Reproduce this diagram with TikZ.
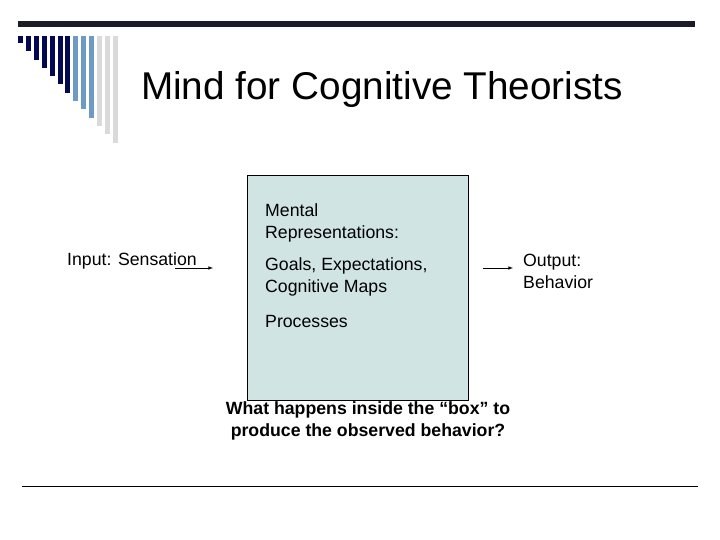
\documentclass[tikz,border=0pt]{standalone}
\usepackage{fontspec}
\setmainfont{Liberation Sans}
\definecolor{bardark}{RGB}{4,8,82}
\definecolor{barmid}{RGB}{110,155,195}
\definecolor{barlight}{RGB}{218,218,218}
\definecolor{rulecol}{RGB}{28,28,40}
\definecolor{boxfill}{RGB}{208,228,228}
\tikzset{
    txt/.style = {font=\fontsize{17.7}{22}\selectfont, align=left, inner sep=0pt},
    flow/.style = {-latex, semithick}
}
\begin{document}
\begin{tikzpicture}[x=1pt, y=-1pt]
    \useasboundingbox (0,0) rectangle (720,540);
    % header rule and bars
    \fill[rulecol] (18,21.5) rectangle (695,27);
    \foreach \i in {0,...,12} {
        \ifnum\i<7 \def\bc{bardark}\else\ifnum\i<10 \def\bc{barmid}\else\def\bc{barlight}\fi\fi
        \fill[\bc] ({18+7.9*\i},36) rectangle ({23+7.9*\i},{43+8.3*\i});
    }
    \node[font=\fontsize{38.7}{42}\selectfont] (title) at (382,89) {Mind for Cognitive Theorists};

    \draw[fill=boxfill, semithick] (247,175) rectangle (468,400);
    \node[txt, anchor=west] (mental) at (265,223) {Mental\\Representations:};
    \node[txt, anchor=west] (goals) at (265,277) {Goals, Expectations,\\Cognitive Maps};
    \node[txt, anchor=west] (proc) at (265,321) {Processes};

    \node[txt, anchor=west] (input) at (67,261) {Input: Sensation};
    \coordinate (inA) at (175,268);
    \coordinate (inB) at (213,268);
    \draw[flow] (inA) -- (inB);
    \coordinate (outA) at (483,268);
    \coordinate (outB) at (513,268);
    \draw[flow] (outA) -- (outB);
    \node[txt, anchor=west] (output) at (523,271) {Output:\\Behavior};

    \node[txt, align=center, font=\fontsize{17.7}{22}\selectfont\bfseries] (quest) at (368,421)
        {What happens inside the “box” to\\produce the observed behavior?};
    \draw[semithick] (22,486) -- (698,486);
\end{tikzpicture}
\end{document}
